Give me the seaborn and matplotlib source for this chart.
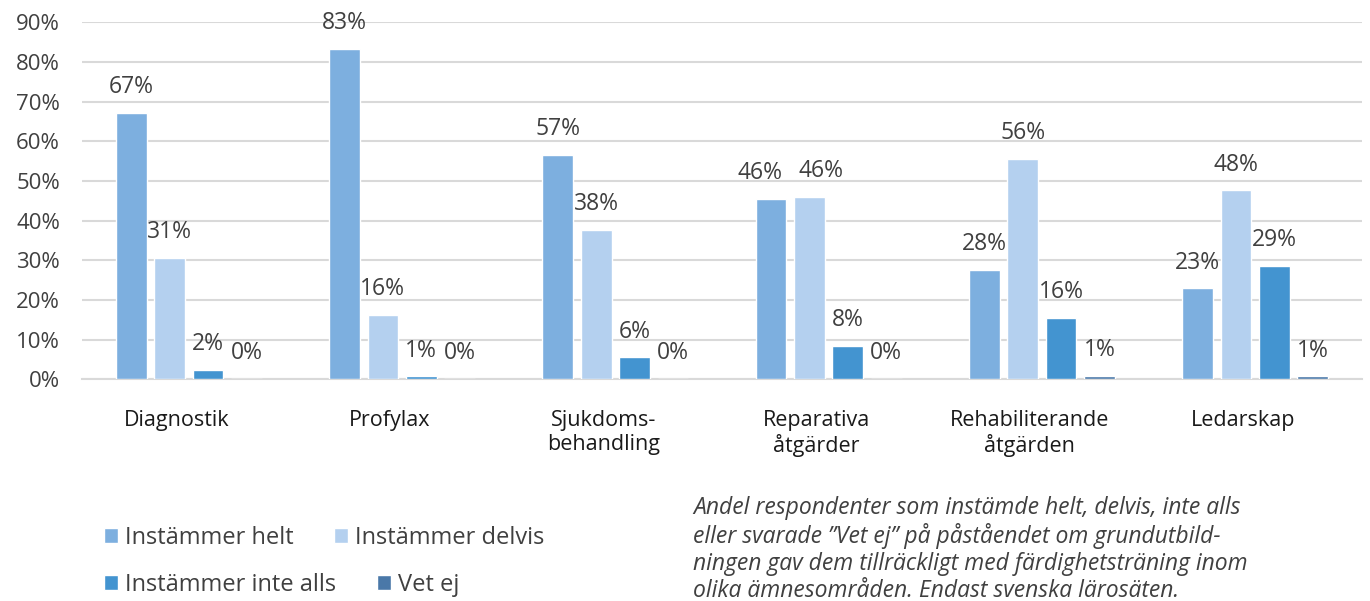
import pandas as pd
import seaborn as sns
import matplotlib.pyplot as plt
from matplotlib.transforms import ScaledTranslation

# data
categories = ["Diagnostik", "Profylax", "Sjukdoms-\nbehandling", "Reparativa\nåtgärder",
              "Rehabiliterande\nåtgärden", "Ledarskap"]
series = ["Instämmer helt", "Instämmer delvis", "Instämmer inte alls", "Vet ej"]
helt = [67.1, 83.2, 56.5, 45.4, 27.5, 22.9]
delvis = [30.5, 16.1, 37.6, 45.9, 55.5, 47.6]
inte_alls = [2.3, 0.7, 5.5, 8.3, 15.5, 28.5]
vet_ej = [0.0, 0.0, 0.0, 0.0, 0.9, 0.7]
labels_helt = ["67%", "83%", "57%", "46%", "28%", "23%"]
labels_delvis = ["31%", "16%", "38%", "46%", "56%", "48%"]
labels_inte = ["2%", "1%", "6%", "8%", "16%", "29%"]
labels_vet = ["0%", "0%", "0%", "0%", "1%", "1%"]
colors = ["#7DAFDF", "#B4D0EF", "#4394D0", "#4A78A8"]

note = ("Andel respondenter som instämde helt, delvis, inte alls\n"
        "eller svarade ”Vet ej” på påståendet om grundutbild-\n"
        "ningen gav dem tillräckligt med färdighetsträning inom\n"
        "olika ämnesområden. Endast svenska lärosäten.")

df = pd.DataFrame({
    "Område": categories * 4,
    "Svar": sum([[s] * len(categories) for s in series], []),
    "Andel": helt + delvis + inte_alls + vet_ej,
})

sns.set_style("white")
plt.rcParams["font.family"] = ["Open Sans", "DejaVu Sans"]

fig = plt.figure(figsize=(13.7, 6.01), dpi=100)
ax = fig.add_axes([0.06, 0.369, 0.934, 0.594])

sns.barplot(data=df, x="Område", y="Andel", hue="Svar", hue_order=series,
            palette=colors, width=0.72, gap=0.2, saturation=1, ax=ax, zorder=3)

pad = 10
texts = []
for cont, labs in zip(ax.containers, [labels_helt, labels_delvis, labels_inte, labels_vet]):
    texts.append(ax.bar_label(cont, labels=labs, padding=pad, fontsize=16.5, color="#404040"))
# the two 46% labels are nudged apart, as in the original
texts[0][3].xyann = (-8, pad)
texts[1][3].xyann = (8, pad)

ax.set_ylim(0, 90)
ax.set_xlim(-0.5, 5.5)
ax.set_yticks(range(0, 91, 10))
ax.set_yticklabels([f"{v}%" for v in range(0, 91, 10)])
ax.yaxis.grid(True, color="#D9D9D9", linewidth=1.5)
ax.set_axisbelow(True)
ax.set_xlabel("")
ax.set_ylabel("")
ax.tick_params(axis="y", length=0, pad=16, labelsize=16, labelcolor="#404040")
ax.tick_params(axis="x", length=0, pad=22, labelsize=15.5, labelcolor="#1a1a1a")
# category names sit a little left of the group centre in the original
shift = ScaledTranslation(-0.12, 0, fig.dpi_scale_trans)
for lab in ax.get_xticklabels():
    lab.set_transform(lab.get_transform() + shift)
for s in ["left", "right", "top"]:
    ax.spines[s].set_visible(False)
ax.spines["bottom"].set_color("#D9D9D9")
ax.spines["bottom"].set_linewidth(1.5)
ax.spines["bottom"].set_zorder(1)

handles, labs = ax.get_legend_handles_labels()
ax.get_legend().remove()
leg_kw = dict(ncol=2, frameon=False, fontsize=17, handlelength=0.6, handleheight=0.6,
              handletextpad=0.3, columnspacing=1.7, labelcolor="#404040",
              borderaxespad=0, borderpad=0)
fig.legend(handles[:2], labs[:2], loc="center left", bbox_to_anchor=(0.076, 0.105), **leg_kw)
fig.legend(handles[2:], labs[2:], loc="center left", bbox_to_anchor=(0.076, 0.027), **leg_kw)

fig.text(0.506, 0.174, note, fontsize=16.5, style="italic", color="#404040",
         ha="left", va="top", linespacing=1.15)

fig.savefig("out.png", dpi=100)
